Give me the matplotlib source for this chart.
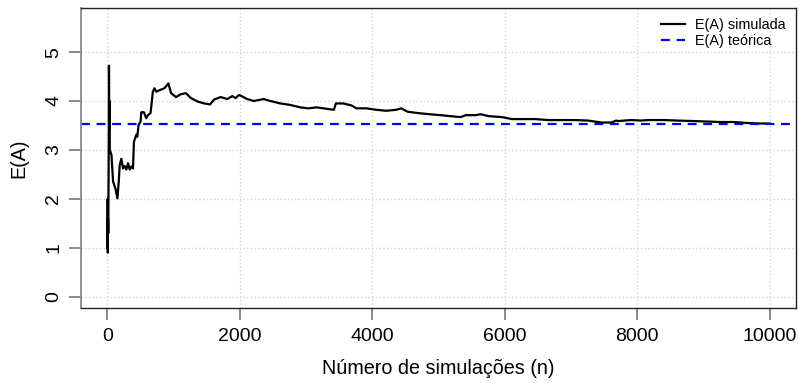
import matplotlib
matplotlib.use("Agg")
import matplotlib.pyplot as plt

# valores (n, E(A) acumulada)
n_sim = [1, 3, 5, 8, 12, 16, 20, 22, 24, 27, 30, 35, 45, 60, 85, 120, 150,
         170, 185, 210, 235, 260, 285, 310, 335, 360, 385, 400, 435, 450, 470,
         500, 510, 550, 585, 610, 650, 670, 685, 710, 735, 785, 860, 920, 960,
         1035, 1110, 1185, 1260, 1360, 1460, 1550, 1610, 1710, 1810, 1885, 1935,
         1985, 2010, 2110, 2210, 2360, 2460, 2610, 2760, 2910, 3035, 3160, 3310,
         3420, 3450, 3560, 3685, 3760, 3910, 4060, 4210, 4360, 4435, 4535, 4710,
         4860, 5035, 5185, 5335, 5410, 5560, 5635, 5760, 5960, 6110, 6310, 6460,
         6660, 6860, 7060, 7260, 7460, 7610, 7685, 7710, 7910, 8060, 8160, 8410,
         8610, 8860, 9060, 9260, 9460, 9660, 9860, 9950, 10000]
ea_sim = [1.0, 2.0, 0.9, 1.6, 1.3, 2.3, 3.2, 4.72, 4.5, 3.4, 4.0, 3.0, 2.96, 2.9, 2.35, 2.21, 2.01,
          2.35, 2.69, 2.82, 2.62, 2.67, 2.60, 2.73, 2.60, 2.66, 2.62, 3.17, 3.31, 3.27, 3.51,
          3.58, 3.77, 3.77, 3.65, 3.71, 3.75, 3.99, 4.19, 4.26, 4.19, 4.22, 4.26, 4.36, 4.16,
          4.08, 4.14, 4.16, 4.06, 3.99, 3.95, 3.93, 4.03, 4.08, 4.04, 4.10, 4.06,
          4.12, 4.11, 4.04, 4.00, 4.04, 4.00, 3.95, 3.92, 3.87, 3.85, 3.87, 3.84,
          3.82, 3.95, 3.95, 3.91, 3.85, 3.85, 3.82, 3.80, 3.82, 3.85, 3.78, 3.75,
          3.73, 3.71, 3.69, 3.67, 3.71, 3.71, 3.73, 3.69, 3.67, 3.63, 3.63, 3.63,
          3.61, 3.61, 3.61, 3.60, 3.56, 3.56, 3.60, 3.59, 3.61, 3.60, 3.61, 3.61,
          3.60, 3.59, 3.58, 3.57, 3.57, 3.55, 3.54, 3.54, 3.54]
ea_teorica = 3.53

plt.rcParams['font.family'] = ['Liberation Sans', 'DejaVu Sans']

fig = plt.figure(figsize=(7.98, 3.83), dpi=100)
ax = fig.add_axes([0.1015, 0.196, 0.896, 0.783])

ax.plot(n_sim, ea_sim, color='black', lw=1.6, label='E(A) simulada')
ax.axhline(ea_teorica, color='blue', lw=1.6, ls=(0, (4, 3)), label='E(A) teórica')

ax.set_xlim(-400, 10400)
ax.set_ylim(-0.23, 5.9)
ax.set_xticks([0, 2000, 4000, 6000, 8000, 10000])
ax.set_yticks([0, 1, 2, 3, 4, 5])
ax.grid(True, color='#d3d3d3', ls=':', lw=1)
ax.set_axisbelow(True)

ax.tick_params(axis='both', direction='out', length=8.6, width=1.2, color='#777777', labelsize=14)
ax.tick_params(axis='x', pad=6)
ax.tick_params(axis='y', pad=5)
for lab in ax.get_yticklabels():
    lab.set_rotation(90)
    lab.set_va('center')
for s in ax.spines.values():
    s.set_color('#222222')
    s.set_linewidth(1)
ax.spines['left'].set_color('#888888')
ax.spines['left'].set_linewidth(1.3)

ax.set_xlabel('Número de simulações (n)', fontsize=14.2, labelpad=10)
ax.set_ylabel('E(A)', fontsize=14.2, labelpad=12)

ax.legend(loc='upper right', frameon=False, fontsize=10.4, handlelength=1.7,
          borderaxespad=0.3, labelspacing=0.15, handletextpad=0.7)

fig.savefig('out.png', dpi=100)
